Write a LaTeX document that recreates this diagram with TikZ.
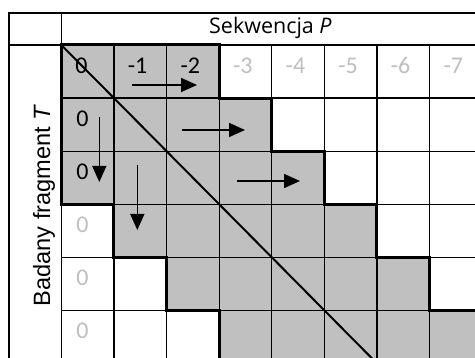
\documentclass[tikz,border=0pt]{standalone}
\usepackage{fontspec}
\setmainfont{Carlito}
\newfontfamily\hdrfont{Open Sans}
\newfontfamily\vlabfont{Liberation Sans}
\usetikzlibrary{arrows.meta}
\definecolor{cellgray}{RGB}{192,192,192}
\definecolor{labgray}{RGB}{191,191,191}
\tikzset{
  thinline/.style={line width=1.2pt, black},
  cellbox/.style={draw=black, line width=1.2pt, minimum width=52.6pt, minimum height=53.06pt, inner sep=0pt, outer sep=0pt},
  thickb/.style={line width=3pt, black, line join=miter, line cap=rect},
  diag/.style={line width=2pt, black},
  lab/.style={inner sep=0pt, outer sep=0pt, font=\fontsize{24}{26}\selectfont, anchor=base west},
  arr/.style={line width=1.6pt, -{Triangle[length=16pt,width=14pt]}},
}
\begin{document}
\begin{tikzpicture}[x=1pt,y=-1pt]
\useasboundingbox (0,0) rectangle (475,358);
\clip (0,0) rectangle (475,358);
\fill[white] (0,0) rectangle (475,358);
% outer frame and header
\draw[thinline] (9,370) -- (9,13) -- (500,13);
\draw[thinline] (9,45) -- (500,45);
\draw[thinline] (61.3,13) -- (61.3,45);
\node[inner sep=0pt, anchor=base, font=\hdrfont\fontsize{21.5}{24}\selectfont] (hdr) at (270.4,34) {Sekwencja \textit{P}};
\node[inner sep=0pt, anchor=base, rotate=90, font=\vlabfont\fontsize{23.6}{26}\selectfont] (vlab) at (50,205.5) {Badany fragment \textit{T}};
\begin{scope}[shift={(61.3,45)}, x=52.6pt, y=-53.06pt]
  \foreach \r in {0,...,5}{
    \foreach \c in {0,...,7}{
      \pgfmathtruncatemacro\g{and(\c>=\r-2,\c<=\r+2)}
      \ifnum\g=1 \def\cf{cellgray}\else\def\cf{white}\fi
      \node[cellbox, fill=\cf] (c-\r-\c) at (\c+.5,\r+.5) {};
    }
  }
  \draw[thickb] (0,0) -- (3,0) -- (3,1) -- (4,1) -- (4,2) -- (5,2) -- (5,3) -- (6,3) -- (6,4) -- (7,4) -- (7,5) -- (8,5) -- (8,6);
  \draw[thickb] (0,0) -- (0,3) -- (1,3) -- (1,4) -- (2,4) -- (2,5) -- (3,5) -- (3,6.3);
  \draw[diag] (c-0-0.north west) -- (c-5-5.south east);
\end{scope}
% column labels
\foreach \c/\t/\col in {0/0/black,1/-1/black,2/-2/black,3/-3/labgray,4/-4/labgray,5/-5/labgray,6/-6/labgray,7/-7/labgray}{
  \node[lab, text=\col] (top-\c) at ([xshift=14pt,yshift=-28.5pt]c-0-\c.north west) {\t};
}
\foreach \r/\col in {1/black,2/black,3/labgray,4/labgray,5/labgray}{
  \node[lab, text=\col] (left-\r) at ([xshift=15pt,yshift=-28.5pt]c-\r-0.north west) {0};
}
% arrows
\coordinate (a1s) at (132,85);   \coordinate (a1e) at (197,85);
\coordinate (a2s) at (182,130);  \coordinate (a2e) at (245,130);
\coordinate (a3s) at (237,181);  \coordinate (a3e) at (300,181);
\coordinate (a4s) at (99.3,117); \coordinate (a4e) at (99.3,182);
\coordinate (a5s) at (137.3,165);\coordinate (a5e) at (137.3,230);
\draw[arr] (a1s) -- (a1e);
\draw[arr] (a2s) -- (a2e);
\draw[arr] (a3s) -- (a3e);
\draw[arr] (a4s) -- (a4e);
\draw[arr] (a5s) -- (a5e);
\end{tikzpicture}
\end{document}
